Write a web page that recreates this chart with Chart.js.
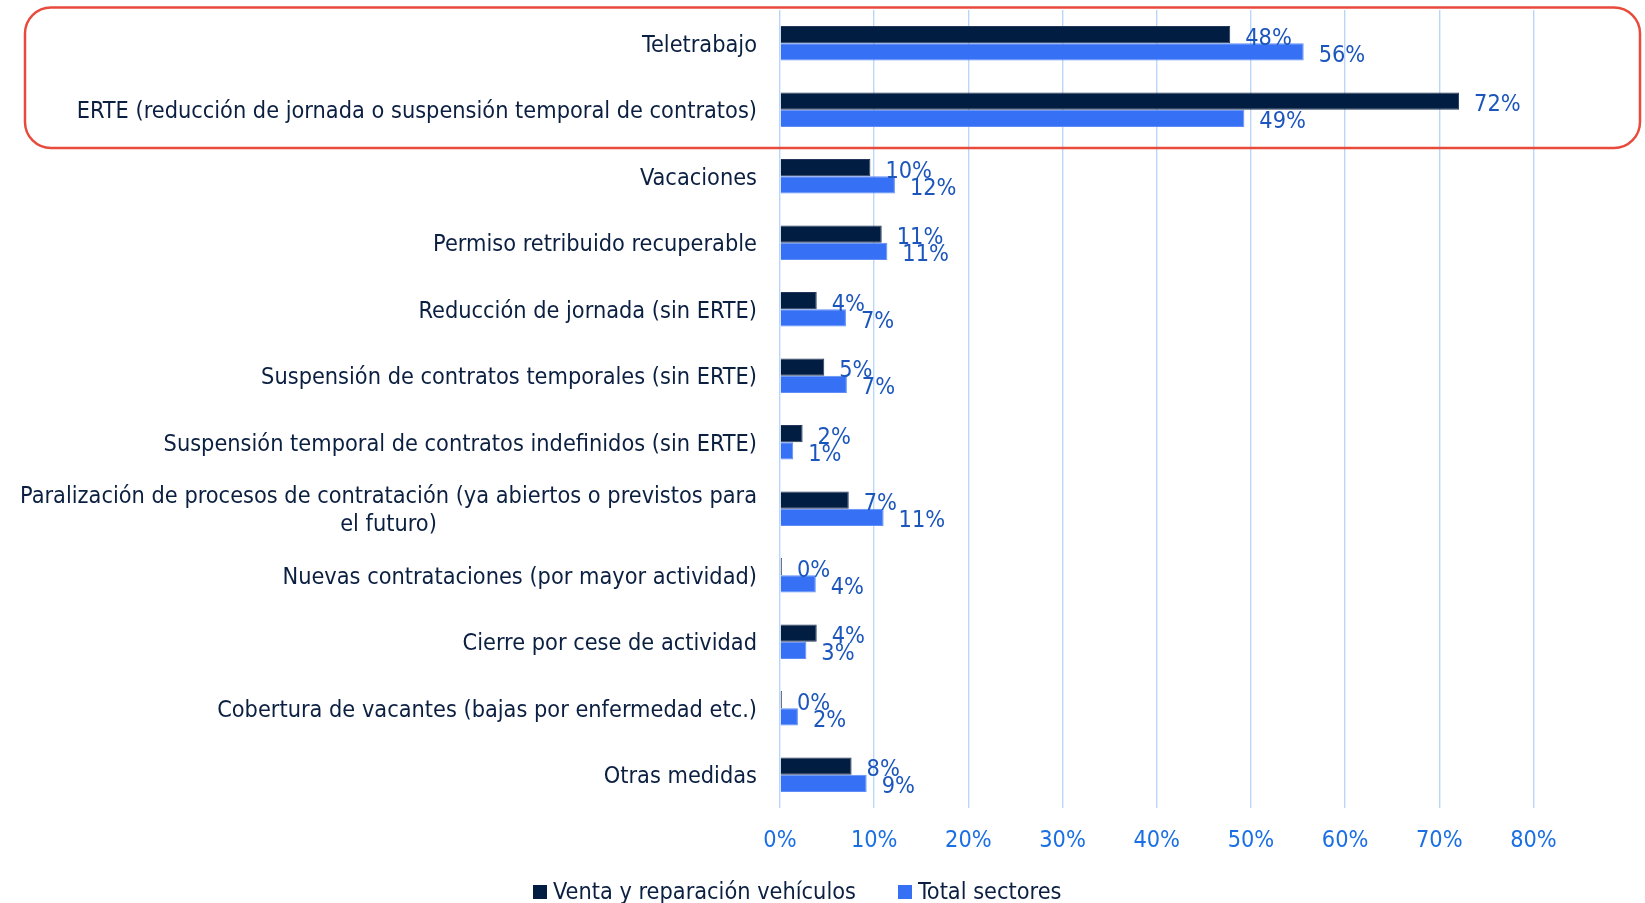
<!DOCTYPE html>
<html><head><meta charset="utf-8">
<script src="https://cdn.jsdelivr.net/npm/chart.js@4/dist/chart.umd.min.js"></script>
<style>html,body{margin:0;padding:0;background:#fff;overflow:hidden}#wrap{width:1645px;height:903px;position:relative}canvas{display:block}</style>
</head><body><div id="wrap"><canvas id="c" width="1645" height="903"></canvas></div>
<script>
const categories = [
  'Teletrabajo',
  'ERTE (reducción de jornada o suspensión temporal de contratos)',
  'Vacaciones',
  'Permiso retribuido recuperable',
  'Reducción de jornada (sin ERTE)',
  'Suspensión de contratos temporales (sin ERTE)',
  'Suspensión temporal de contratos indefinidos (sin ERTE)',
  ['Paralización de procesos de contratación (ya abiertos o previstos para', 'el futuro)'],
  'Nuevas contrataciones (por mayor actividad)',
  'Cierre por cese de actividad',
  'Cobertura de vacantes (bajas por enfermedad etc.)',
  'Otras medidas'
];
const seriesNames = ['Venta y reparación vehículos', 'Total sectores'];
const ventaValues = [47.8, 72.1, 9.6, 10.8, 3.9, 4.7, 2.4, 7.3, 0.2, 3.9, 0.2, 7.6];
const totalValues = [55.6, 49.3, 12.2, 11.4, 7.0, 7.1, 1.4, 11.0, 3.8, 2.8, 1.9, 9.2];
const xTicks = [0, 10, 20, 30, 40, 50, 60, 70, 80];

const FONT = "'DejaVu Sans Condensed', 'DejaVu Sans', sans-serif";
const FS = 23.3;
const NAVY = '#0b1f41';
const DARK = '#021d42';
const BLUE = '#3570f5';
const LABEL_BLUE = '#1c56bd';
const TICK_BLUE = '#1a6fe4';

const overlay = {
  id: 'overlay',
  afterDatasetsDraw(chart) {
    const ctx = chart.ctx;
    ctx.save();
    ctx.font = FS + 'px ' + FONT;
    ctx.fillStyle = LABEL_BLUE;
    ctx.textAlign = 'left';
    ctx.textBaseline = 'alphabetic';
    chart.data.datasets.forEach((ds, di) => {
      const meta = chart.getDatasetMeta(di);
      meta.data.forEach((bar, i) => {
        ctx.fillText(Math.round(ds.data[i]) + '%', bar.x + 15, bar.y + 10);
      });
    });
    ctx.restore();
  },
  afterDraw(chart) {
    const ctx = chart.ctx;
    const ys = chart.scales.y;
    ctx.save();
    ctx.font = FS + 'px ' + FONT;
    ctx.fillStyle = NAVY;
    ctx.textBaseline = 'alphabetic';
    const right = 757;
    categories.forEach((lab, i) => {
      const cy = ys.getPixelForValue(i);
      const lines = Array.isArray(lab) ? lab : [lab];
      const lh = 28;
      const maxW = Math.max(...lines.map(l => ctx.measureText(l).width));
      const start = cy - (lines.length - 1) * lh / 2;
      lines.forEach((l, k) => {
        if (lines.length > 1) {
          ctx.textAlign = 'center';
          ctx.fillText(l, right - maxW / 2, start + k * lh + 8.5);
        } else {
          ctx.textAlign = 'right';
          ctx.fillText(l, right, start + k * lh + 8.5);
        }
      });
    });
    const colors = [DARK, BLUE];
    const lx = [533, 898];
    ctx.textAlign = 'left';
    seriesNames.forEach((n, i) => {
      ctx.fillStyle = colors[i];
      ctx.fillRect(lx[i], 885, 14, 14);
      ctx.fillStyle = NAVY;
      ctx.fillText(n, lx[i] + 20, 898.5);
    });
    ctx.strokeStyle = '#e84b3c';
    ctx.lineWidth = 2.5;
    ctx.beginPath();
    ctx.roundRect(25, 7.5, 1615, 140.5, 26);
    ctx.stroke();
    ctx.restore();
  }
};

new Chart(document.getElementById('c'), {
  type: 'bar',
  data: {
    labels: categories,
    datasets: [
      { label: seriesNames[0], data: ventaValues, backgroundColor: DARK, borderColor: '#24375a', borderWidth: 1, barPercentage: 1, categoryPercentage: 0.52 },
      { label: seriesNames[1], data: totalValues, backgroundColor: BLUE, borderColor: '#5f8cf7', borderWidth: 1, barPercentage: 1, categoryPercentage: 0.52 }
    ]
  },
  options: {
    responsive: false,
    animation: false,
    indexAxis: 'y',
    layout: { padding: { top: 10, right: 111.5, bottom: 0, left: 0 } },
    plugins: { legend: { display: false }, tooltip: { enabled: false } },
    scales: {
      x: {
        min: 0, max: 80,
        border: { display: false },
        grid: { color: '#bad6fa', lineWidth: 1.4, drawTicks: false },
        afterBuildTicks: s => { s.ticks = xTicks.map(v => ({ value: v })); },
        ticks: { padding: 19, color: TICK_BLUE, font: { family: FONT, size: FS }, callback: v => v + '%', maxRotation: 0, autoSkip: false },
        afterFit: s => { s.height = 95; }
      },
      y: {
        grid: { display: false },
        border: { display: false },
        ticks: { display: false },
        afterFit: s => { s.width = 780; }
      }
    }
  },
  plugins: [overlay]
});
</script>
</body></html>
